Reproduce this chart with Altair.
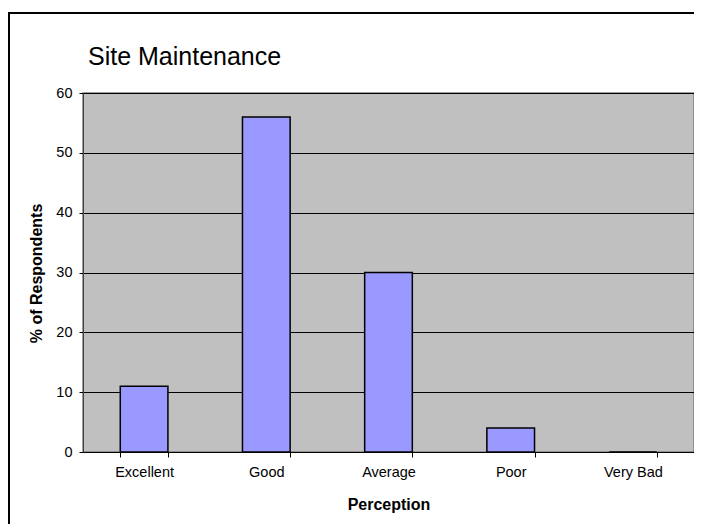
import altair as alt
import pandas as pd

categories = ["Excellent", "Good", "Average", "Poor", "Very Bad"]
values = [11, 56, 30, 4, 0]
y_ticks = [0, 10, 20, 30, 40, 50, 60]

df = pd.DataFrame({"Perception": categories, "Pct": values})
frame_df = pd.DataFrame({"a": [0]})

FONT = "Liberation Sans"

bars = alt.Chart(df).mark_bar(
    fill="#9999FF", stroke="#000000", strokeWidth=1.5
).encode(
    x=alt.X(
        "Perception:N",
        sort=categories,
        scale=alt.Scale(paddingInner=0.61, paddingOuter=0.305),
        axis=alt.Axis(
            title="Perception",
            labelAngle=0,
            tickBand="extent",
            tickSize=5,
            tickColor="#000000",
            domainColor="#000000",
            labelPadding=8,
            labelFontSize=14.5,
            labelFont=FONT,
            labelColor="#000000",
            titleFont=FONT,
            titleFontSize=16,
            titleFontWeight="bold",
            titleColor="#000000",
            titleY=52,
            titleBaseline="middle",
            grid=False,
        ),
    ),
    y=alt.Y(
        "Pct:Q",
        scale=alt.Scale(domain=[0, 60], nice=False),
        axis=alt.Axis(
            title="% of Respondents",
            values=y_ticks,
            tickSize=4,
            tickColor="#000000",
            domainColor="#404040",
            labelPadding=7,
            labelFontSize=14.5,
            labelFont=FONT,
            labelColor="#000000",
            titleFont=FONT,
            titleFontSize=16,
            titleFontWeight="bold",
            titleColor="#000000",
            titleX=-47,
            titleY=180,
            titleBaseline="middle",
            grid=True,
            gridColor="#000000",
            gridWidth=1,
        ),
    ),
)

left_border = alt.Chart(frame_df).mark_rule(color="#000000", strokeWidth=2).encode(
    x=alt.value(-74), y=alt.value(-80), y2=alt.value(440)
)
top_border = alt.Chart(frame_df).mark_rule(color="#000000", strokeWidth=2).encode(
    x=alt.value(-75), x2=alt.value(615), y=alt.value(-80)
)

chart = alt.layer(bars, left_border, top_border).properties(
    width=611,
    height=359,
    autosize="none",
    padding={"left": 75, "top": 85, "right": 0, "bottom": 72},
    background="#FFFFFF",
    title=alt.TitleParams(
        "Site Maintenance",
        anchor="start",
        frame="group",
        font=FONT,
        fontSize=25,
        fontWeight="normal",
        color="#000000",
        baseline="alphabetic",
        dx=5,
        dy=88,
        offset=10,
    ),
).configure_view(
    fill="#C0C0C0", stroke="#808080", strokeWidth=1.5
)

chart.save("out.html", embed_options={"renderer": "svg", "actions": False})
